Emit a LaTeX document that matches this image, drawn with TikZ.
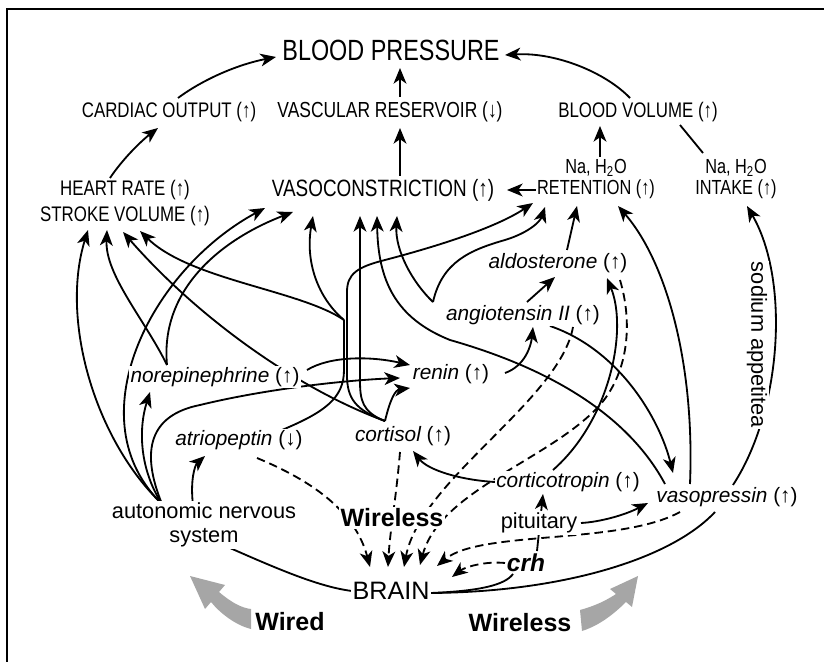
\documentclass[tikz,border=0pt]{standalone}
\usepackage{fontspec}
\setmainfont{Liberation Sans}
\newfontfamily\capsfont[FakeStretch=0.8]{Liberation Sans}
\usetikzlibrary{arrows.meta,calc}
\pgfdeclarelayer{bg}
\pgfsetlayers{bg,main}

\newcommand{\inc}{{\upshape(↑)}}
\newcommand{\dec}{{\upshape(↓)}}

\begin{document}
\begin{tikzpicture}[x=0.025cm, y=-0.025cm,
    txt/.style={fill=white, inner sep=1pt, align=center},
    effect/.style={txt, font=\capsfont\fontsize{15}{18.5}\selectfont},
    hormone/.style={txt, font=\itshape\fontsize{14.8}{18}\selectfont},
    organ/.style={txt, font=\fontsize{15.5}{17}\selectfont},
    mode/.style={txt, font=\bfseries\fontsize{17.8}{20}\selectfont},
    act/.style={line width=1.3pt, -{Stealth[length=3.9mm,width=3.2mm,inset=1.1mm]}},
    link/.style={line width=1.3pt},
    feedback/.style={act, dash pattern=on 6pt off 3.5pt},
    bigarrow/.style={fill=black!35, draw=none}]
    \useasboundingbox (0,0) rectangle (824,662);
    \draw[line width=1.1pt] (824,9) -- (7,9) -- (7,662);

    \node[effect, font=\capsfont\fontsize{20.8}{22}\selectfont] (bp) at (391,50) {BLOOD PRESSURE};
    \node[effect] (card) at (169,112) {CARDIAC OUTPUT \inc};
    \node[effect, font=\capsfont\fontsize{15.5}{18}\selectfont] (vres) at (390,112) {VASCULAR RESERVOIR \dec};
    \node[effect] (bvol) at (638,112) {BLOOD VOLUME \inc};
    \node[effect, font=\capsfont\fontsize{14.5}{15.6}\selectfont] (ret) at (596,179) {Na, H\textsubscript{2}O\\RETENTION \inc};
    \node[effect, font=\capsfont\fontsize{14.5}{15.6}\selectfont] (intake) at (736,179) {Na, H\textsubscript{2}O\\INTAKE \inc};
    \node[effect] (heart) at (125,203) {HEART RATE \inc\\STROKE VOLUME \inc};
    \node[effect, font=\capsfont\fontsize{16.8}{18}\selectfont] (vaso) at (383,190) {VASOCONSTRICTION \inc};
    \node[hormone] (aldo) at (558,263) {aldosterone \inc};
    \node[hormone] (angio) at (523,315) {angiotensin II \inc};
    \node[hormone] (norepi) at (215,377) {norepinephrine \inc};
    \node[hormone] (renin) at (451,374) {renin \inc};
    \node[hormone] (atrio) at (239,440) {atriopeptin \dec};
    \node[hormone] (cort) at (403,436) {cortisol \inc};
    \node[hormone] (corti) at (568,482) {corticotropin \inc};
    \node[hormone] (vasop) at (727,497) {vasopressin \inc};
    \node[organ] (ans) at (204,525) {autonomic nervous\\system};
    \node[mode] (wless) at (392,518) {Wireless};
    \node[organ] (pit) at (539,523) {pituitary};
    \node[mode, font=\bfseries\itshape\fontsize{17.4}{20}\selectfont] (crh) at (526,563) {crh};
    \node[organ, font=\fontsize{17.9}{20}\selectfont] (brain) at (391,591) {BRAIN};
    \node[mode] (wired) at (290,622) {Wired};
    \node[mode] (wless2) at (520,623) {Wireless};
    \node[organ, rotate=-90] (appetite) at (757,345) {sodium appetitea};

    \coordinate (anscusp) at ($(ans)+(-42,-21)$);
    \coordinate (necusp) at ($(norepi)+(-48,-12)$);
    \coordinate (apcusp) at (344,320);
    \coordinate (angcusp) at ($(angio)+(-90,-13)$);
    \coordinate (corttop) at ($(cort)+(-18,-15)$);

    \fill[bigarrow] (190,576) -- (225,585) -- (219,592) .. controls (232,603) and (242,608) .. (251,609)
        -- (251,629) .. controls (235,625) and (220,613) .. (211,602) -- (205,609) -- cycle;
    \fill[bigarrow] (638,576) -- (632,607) -- (626,602) .. controls (610,618) and (595,627) .. (582,631)
        -- (580,610) .. controls (595,606) and (607,600) .. (616,594) -- (610,589) -- cycle;

    \begin{pgfonlayer}{bg}
    % effects on pressure
    \draw[act] ($(card)+(9,-14)$) .. controls (205,78) and (240,64) .. ($(bp)+(-115,7)$);
    \draw[act] ($(vres)+(10,-15)$) -- ($(bp)+(9,18)$);
    \draw[act] ($(bvol)+(-8,-14)$) .. controls (605,72) and (555,52) .. ($(bp)+(114,5)$);
    \draw[act] ($(heart)+(-15,-25)$) .. controls (122,160) and (140,142) .. ($(card)+(-11,16)$);
    \draw[act] ($(vaso)+(17,-14)$) -- ($(vres)+(10,16)$);
    \draw[act] ($(ret)+(4,-22)$) -- ($(bvol)+(-38,14)$);
    \draw[link] ($(intake)+(-33,-26)$) -- ($(bvol)+(42,13)$);
    \draw[act] ($(ret)+(-59,11)$) -- ($(vaso)+(124,0)$);

    % autonomic nervous system
    \draw[act] (anscusp) .. controls (95,440) and (60,320) .. ($(heart)+(-37,27)$);
    \draw[act] (anscusp) .. controls (75,420) and (150,270) .. ($(vaso)+(-118,18)$);
    \draw[act] (anscusp) .. controls (140,470) and (138,430) .. ($(norepi)+(-65,15)$);
    \draw[act] (anscusp) .. controls (140,450) and (150,415) .. (200,405)
        .. controls (270,388) and (350,380) .. ($(renin)+(-51,4)$);
    \draw[act] ($(ans)+(-11,-20)$) .. controls (190,480) and (195,465) .. ($(atrio)+(-34,16)$);
    \draw[link] ($(ans)+(26,23)$) .. controls (280,570) and (320,587) .. ($(brain)+(-39,0)$);

    % norepinephrine
    \draw[act] (necusp) .. controls (145,320) and (105,275) .. ($(heart)+(-18,27)$);
    \draw[act] (necusp) .. controls (160,290) and (220,240) .. ($(vaso)+(-90,22)$);
    \draw[act] ($(norepi)+(92,-7)$) .. controls (330,356) and (370,356) .. ($(renin)+(-41,-9)$);

    % atriopeptin
    \draw[link] ($(atrio)+(43,-10)$) .. controls (325,412) and (344,398) .. (344,370) -- (apcusp);
    \draw[act] (apcusp) .. controls (300,290) and (190,280) .. ($(heart)+(15,28)$);
    \draw[act] (apcusp) .. controls (318,298) and (305,262) .. ($(vaso)+(-70,26)$);
    \draw[feedback] ($(atrio)+(18,18)$) .. controls (310,480) and (355,510) .. ($(brain)+(-21,-24)$);

    % cortisol
    \draw[act] (corttop) .. controls (300,390) and (200,320) .. ($(heart)+(-2,29)$);
    \draw[act] (corttop) .. controls (362,412) and (360,400) .. (360,380) -- ($(vaso)+(-23,26)$);
    \draw[act] (corttop) .. controls (355,410) and (347,398) .. (347,375) -- (347,292)
        .. controls (347,274) and (357,267) .. (385,260) .. controls (450,243) and (500,225) .. ($(ret)+(-63,24)$);
    \draw[act] (corttop) .. controls (390,400) and (395,390) .. ($(renin)+(-41,14)$);
    \draw[feedback] ($(cort)+(-3,16)$) .. controls (396,500) and (390,530) .. ($(brain)+(-3,-24)$);

    % renin, angiotensin, aldosterone
    \draw[act] ($(renin)+(54,-1)$) .. controls (525,366) and (531,346) .. ($(angio)+(10,12)$);
    \draw[act] (angcusp) .. controls (412,282) and (395,250) .. ($(vaso)+(14,26)$);
    \draw[act] (angcusp) .. controls (442,262) and (470,250) .. (505,240)
        .. controls (528,233) and (540,222) .. ($(ret)+(-51,28)$);
    \draw[act] ($(angio)+(4,-13)$) -- ($(aldo)+(-3,14)$);
    \draw[act] ($(angio)+(27,11)$) .. controls (620,350) and (660,420) .. ($(vasop)+(-54,-24)$);
    \draw[feedback] ($(angio)+(50,12)$) .. controls (560,400) and (420,480) .. ($(brain)+(13,-24)$);
    \draw[act] ($(aldo)+(9,-13)$) -- ($(ret)+(-19,27)$);
    \draw[feedback] ($(aldo)+(62,17)$) .. controls (632,320) and (630,370) .. (600,405)
        .. controls (550,460) and (440,490) .. ($(brain)+(29,-26)$);

    % corticotropin
    \draw[act] ($(corti)+(-15,-12)$) .. controls (610,420) and (628,330) .. ($(aldo)+(49,15)$);
    \draw[act] ($(corti)+(-73,0)$) .. controls (460,480) and (428,470) .. ($(cort)+(10,15)$);

    % vasopressin
    \draw[act] ($(vasop)+(-62,-13)$) .. controls (620,400) and (520,360) .. (450,340)
        .. controls (395,318) and (378,280) .. ($(vaso)+(-6,26)$);
    \draw[act] ($(vasop)+(-37,-13)$) .. controls (695,360) and (665,260) .. ($(ret)+(22,27)$);
    \draw[act] ($(vasop)+(6,-12)$) .. controls (782,410) and (790,280) .. ($(intake)+(11,27)$);
    \draw[feedback] ($(vasop)+(-47,15)$) .. controls (620,545) and (480,530) .. ($(brain)+(46,-25)$);

    % brain, pituitary, crh
    \draw[act] ($(crh)+(11,-12)$) -- ($(corti)+(-25,12)$);
    \draw[act] ($(pit)+(42,0)$) .. controls (600,522) and (625,515) .. ($(vasop)+(-79,6)$);
    \draw[link] ($(brain)+(40,2)$) .. controls (480,591) and (505,585) .. ($(crh)+(-13,11)$);
    \draw[link] ($(brain)+(40,2)$) .. controls (560,592) and (670,560) .. ($(vasop)+(-12,15)$);
    \draw[feedback] ($(crh)+(-21,0)$) .. controls (485,561) and (465,567) .. ($(brain)+(61,-14)$);
    \end{pgfonlayer}
\end{tikzpicture}
\end{document}
